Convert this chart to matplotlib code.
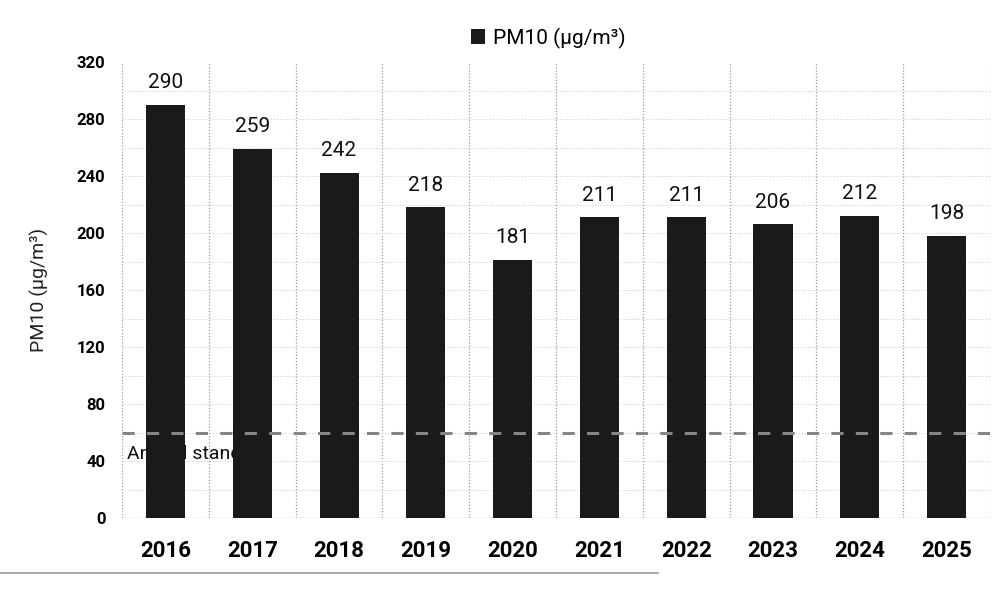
import matplotlib
matplotlib.use("Agg")
import matplotlib.pyplot as plt
from matplotlib.lines import Line2D

years = ["2016", "2017", "2018", "2019", "2020", "2021", "2022", "2023", "2024", "2025"]
pm10 = [290, 259, 242, 218, 181, 211, 211, 206, 212, 198]
annual_standard = 60
y_ticks = [0, 40, 80, 120, 160, 200, 240, 280, 320]

FONT = ["Roboto", "DejaVu Sans"]
plt.rcParams["font.family"] = FONT

fig = plt.figure(figsize=(9.97, 5.89), dpi=100)
ax = fig.add_axes([0.1224, 0.1205, 0.8706, 0.7742])

x = list(range(len(years)))
ax.bar(x, pm10, width=0.45, color="#1a1a1a", zorder=3, label="PM10 (µg/m³)")

for xi, v in zip(x, pm10):
    ax.text(xi, v + 9, str(v), ha="center", va="bottom", fontsize=15, color="#111111", zorder=4)

ax.axhline(annual_standard, color="#858585", lw=2.2, ls=(0, (4, 4)), zorder=5)
ax.text(-0.44, 45, "Annual standard", ha="left", va="center", fontsize=14, color="#111111", zorder=2)

ax.set_xlim(-0.5, len(years) - 0.5)
ax.set_ylim(0, 320)
ax.set_yticks(y_ticks)
ax.set_xticks(x)
ax.set_xticklabels(years, fontsize=16, fontweight="bold")
ax.tick_params(axis="y", labelsize=12, length=0, pad=12)
ax.tick_params(axis="x", length=0, pad=16)
for lbl in ax.get_yticklabels():
    lbl.set_fontweight("bold")

# gridlines
for b in range(len(years) + 1):
    ax.axvline(b - 0.5, color="#9a9a9a", lw=0.9, ls=(0, (1, 1.5)), zorder=1)
for yv in range(20, 320, 20):
    ax.axhline(yv, color="#c8c8c8", lw=0.7, ls=(0, (1, 2)), zorder=1)
for s in ["top", "right", "left", "bottom"]:
    ax.spines[s].set_visible(False)
ax.axhline(0, color="#9a9a9a", lw=1.0, ls=(0, (1, 1)), zorder=1)

ax.set_ylabel("PM10 (µg/m³)", fontsize=14, labelpad=20, color="#222222")

leg = fig.legend(loc="upper center", bbox_to_anchor=(0.55, 0.985), frameon=False,
                 fontsize=15, handlelength=0.7, handleheight=0.7, handletextpad=0.4)

fig.add_artist(Line2D([0.0, 0.66], [0.027, 0.027], transform=fig.transFigure,
                      color="#9a9a9a", lw=1.2))

fig.savefig("out.png", dpi=100, facecolor="white")
